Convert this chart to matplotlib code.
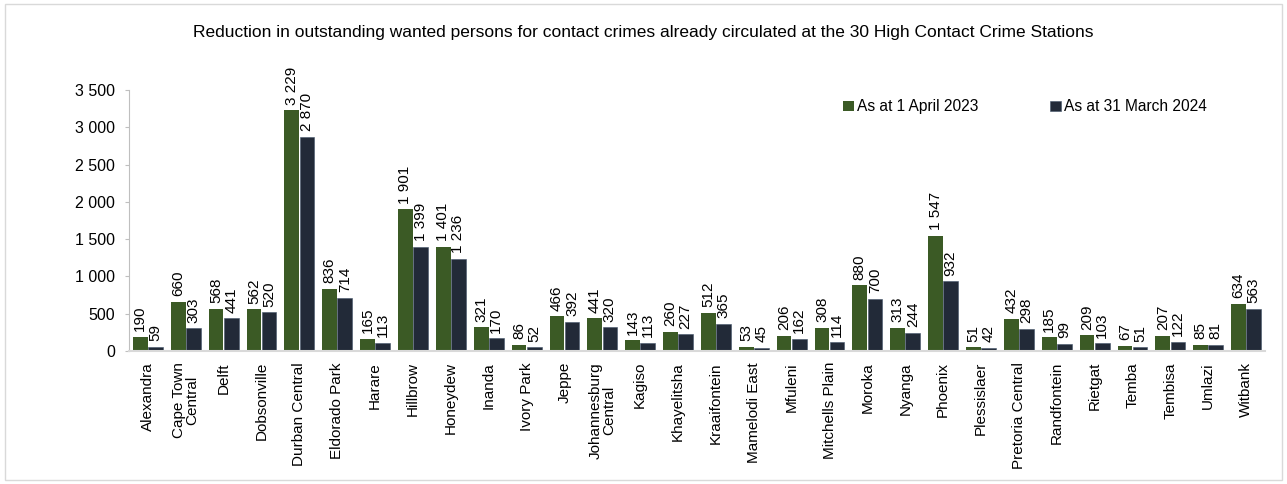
import matplotlib
matplotlib.use("Agg")
import matplotlib.pyplot as plt
import numpy as np
from matplotlib.patches import Rectangle

plt.rcParams['font.family'] = ['Liberation Sans', 'DejaVu Sans']

title = "Reduction in outstanding wanted persons for contact crimes already circulated at the 30 High Contact Crime Stations"
stations = ["Alexandra", "Cape Town\nCentral", "Delft", "Dobsonville", "Durban Central", "Eldorado Park",
            "Harare", "Hillbrow", "Honeydew", "Inanda", "Ivory Park", "Jeppe", "Johannesburg\nCentral",
            "Kagiso", "Khayelitsha", "Kraaifontein", "Mamelodi East", "Mfuleni", "Mitchells Plain",
            "Moroka", "Nyanga", "Phoenix", "Plessislaer", "Pretoria Central", "Randfontein", "Rietgat",
            "Temba", "Tembisa", "Umlazi", "Witbank"]
april_2023 = [190, 660, 568, 562, 3229, 836, 165, 1901, 1401, 321, 86, 466, 441, 143, 260, 512, 53,
              206, 308, 880, 313, 1547, 51, 432, 185, 209, 67, 207, 85, 634]
march_2024 = [59, 303, 441, 520, 2870, 714, 113, 1399, 1236, 170, 52, 392, 320, 113, 227, 365, 45,
              162, 114, 700, 244, 932, 42, 298, 99, 103, 51, 122, 81, 563]
series_names = ["As at 1 April 2023", "As at 31 March 2024"]
yticks = [0, 500, 1000, 1500, 2000, 2500, 3000, 3500]

green = "#3b5a25"
navy = "#222a38"

fig = plt.figure(figsize=(12.87, 4.84), dpi=100)
fig.patches.append(Rectangle((0.004, 0.008), 0.992, 0.984, transform=fig.transFigure,
                             fill=False, edgecolor="#d9d9d9", linewidth=1.0))
ax = fig.add_axes([129/1287, 1-351/484, (1265-129)/1287, (351-90)/484])

x = np.arange(len(stations))
w = 0.39
b1 = ax.bar(x - 0.2, april_2023, w, color=green, label=series_names[0])
b2 = ax.bar(x + 0.2, march_2024, w, color=navy, edgecolor="#44546a", linewidth=0.4, label=series_names[1])

def fmt(v):
    return f"{v:,}".replace(",", " ")

for bars, vals in ((b1, april_2023), (b2, march_2024)):
    for rect, v in zip(bars, vals):
        ax.annotate(fmt(v), (rect.get_x() + rect.get_width()/2, v), xytext=(0, 4),
                    textcoords="offset points", rotation=90, ha="center", va="bottom",
                    fontsize=11, color="#000000")

ax.set_xlim(-0.5, len(stations) - 0.5)
ax.set_ylim(0, 3500)
ax.set_yticks(yticks)
ax.set_yticklabels([fmt(t) for t in yticks], fontsize=11.5)
ax.set_xticks(x)
ax.set_xticklabels(stations, rotation=90, fontsize=11, ha="center", va="top", multialignment="center",
                   linespacing=0.95)
ax.tick_params(axis="x", length=0, pad=8)
ax.tick_params(axis="y", length=3, color="#bfbfbf", pad=7)
for s in ("top", "right"):
    ax.spines[s].set_visible(False)
ax.spines["left"].set_color("#bfbfbf")
ax.spines["bottom"].set_color("#d9d9d9")
ax.spines["bottom"].set_linewidth(1.5)

fig.text(0.5, 1-32/484, title, ha="center", va="center", fontsize=12.5)
leg = ax.legend(loc="center", bbox_to_anchor=((1025-129)/1136, (351-107)/261), ncol=2, frameon=False,
                fontsize=11.2, handlelength=0.7, handleheight=0.7, handletextpad=0.2, columnspacing=4.6)

fig.savefig("out.png", dpi=100)
